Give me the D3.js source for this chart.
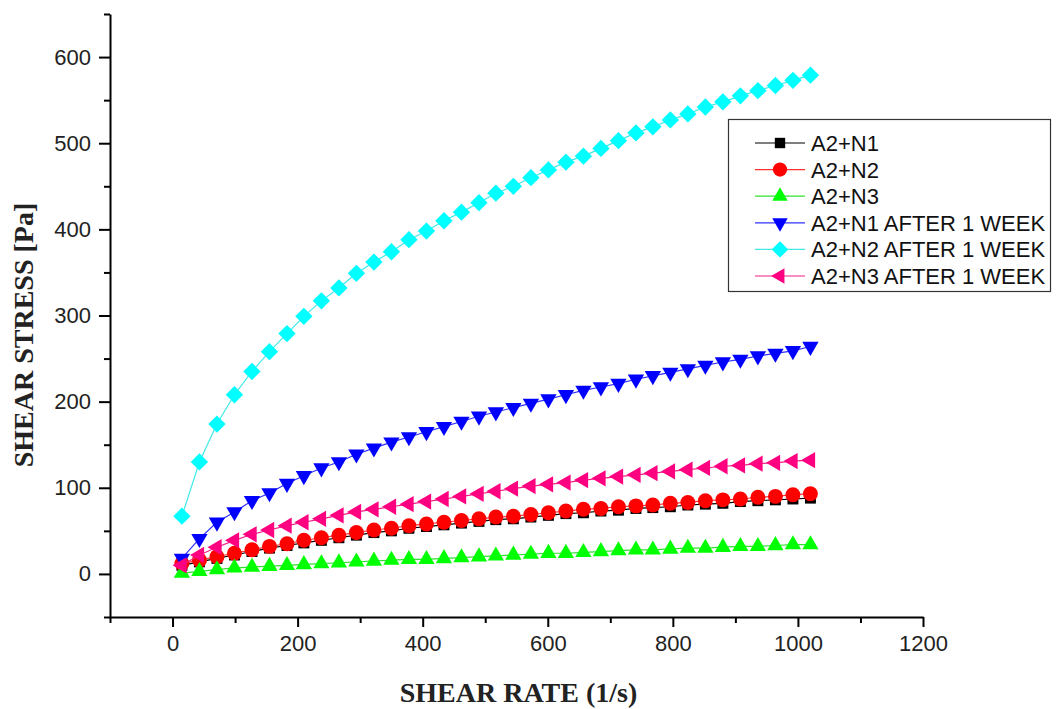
<!DOCTYPE html>
<html>
<head>
<meta charset="utf-8">
<script src="https://cdn.jsdelivr.net/npm/d3@7"></script>
<style>
  html, body { margin: 0; padding: 0; background: #fff; }
  svg { display: block; }
</style>
</head>
<body>
<svg id="chart" width="1056" height="709"></svg>
<script>
// ---- data ----
const shearRate = [15, 43, 71, 99, 127, 155, 183, 210, 238, 266, 294, 322, 350, 378, 406, 434, 462, 490, 517,
                   545, 573, 601, 629, 657, 685, 713, 741, 768, 796, 824, 852, 880, 908, 936, 964, 992, 1020];

const a2n1 = [10, 14, 18, 22, 26, 30, 33, 36, 39, 42, 45, 48, 50, 53, 55, 57, 59, 61, 63,
              64, 66, 68, 70, 71, 73, 74, 76, 77, 78, 80, 81, 82, 84, 85, 86, 87, 88];
const a2n2 = [12, 16, 20, 24, 28, 32, 35, 39, 42, 45, 48, 51, 53, 56, 58, 60, 62, 64, 66,
              67, 69, 71, 73, 75, 76, 78, 79, 80, 82, 83, 85, 86, 87, 89, 90, 92, 93];
const a2n3 = [1, 3, 5, 7, 8, 9, 10, 11, 12, 13, 14, 15, 16, 17, 17, 18, 19, 20, 21,
              22, 23, 24, 24, 25, 26, 27, 28, 28, 29, 30, 30, 31, 32, 32, 33, 34, 34];
const a2n1Week = [18, 41, 60, 72, 85, 94, 105, 114, 123, 130, 139, 146, 153, 159, 165, 171, 177, 183, 188,
                  193, 198, 203, 208, 213, 217, 221, 226, 230, 234, 238, 242, 246, 249, 253, 256, 259, 264];
const a2n2Week = [67, 130, 174, 208, 235, 258, 279, 299, 317, 332, 349, 362, 374, 388, 398, 410, 420, 431, 442,
                  450, 460, 469, 478, 485, 494, 503, 512, 519, 527, 534, 542, 548, 555, 561, 567, 573, 579];
const a2n3Week = [10, 22, 31, 39, 46, 51, 56, 60, 64, 68, 72, 75, 78, 81, 84, 87, 90, 93, 96,
                  99, 102, 104, 106, 109, 111, 113, 115, 117, 119, 121, 123, 125, 126, 128, 129, 131, 132];

const seriesNames = ["A2+N1", "A2+N2", "A2+N3", "A2+N1 AFTER 1 WEEK", "A2+N2 AFTER 1 WEEK", "A2+N3 AFTER 1 WEEK"];
const seriesValues = [a2n1, a2n2, a2n3, a2n1Week, a2n2Week, a2n3Week];

const xMajorTicks = [0, 200, 400, 600, 800, 1000, 1200];
const xMinorTicks = [-100, 100, 300, 500, 700, 900, 1100];
const yMajorTicks = [0, 100, 200, 300, 400, 500, 600];
const yMinorTicks = [-50, 50, 150, 250, 350, 450, 550, 650];

const xTitle = "SHEAR RATE (1/s)";
const yTitle = "SHEAR STRESS [Pa]";

// ---- styles ----
const colors = ["#000000", "#ff0000", "#00ff00", "#0000ff", "#00ffff", "#ff0080"];
const lineColors = ["#000000", "#ff3030", "#30e030", "#3030ff", "#40e8e8", "#f0208a"];
const shapes = [
  { type: d3.symbolSquare, size: 120, rot: 0 },
  { type: d3.symbolCircle, size: 175, rot: 0 },
  { type: d3.symbolTriangle, size: 115, rot: 0 },
  { type: d3.symbolTriangle, size: 115, rot: 180 },
  { type: d3.symbolSquare, size: 150, rot: 45 },
  { type: d3.symbolTriangle, size: 115, rot: -90 }
];

const svg = d3.select("#chart");
const x = d3.scaleLinear().domain([-100, 1200]).range([110, 923]);
const y = d3.scaleLinear().domain([-50, 650]).range([617, 14]);

const tickFont = "'Liberation Sans', Arial, sans-serif";
const titleFont = "'Liberation Serif', 'Times New Roman', serif";

// ---- axes ----
const gx = svg.append("g").attr("transform", `translate(0,${y(-50)})`);
gx.call(d3.axisBottom(x).tickValues(xMajorTicks).tickSize(10).tickPadding(8).tickSizeOuter(0).tickFormat(d3.format("d")));
const gxm = svg.append("g").attr("transform", `translate(0,${y(-50)})`);
gxm.call(d3.axisBottom(x).tickValues(xMinorTicks).tickSize(6).tickSizeOuter(0).tickFormat(""));
gxm.select(".domain").remove();

const gy = svg.append("g").attr("transform", `translate(${x(-100)},0)`);
gy.call(d3.axisLeft(y).tickValues(yMajorTicks).tickSize(11).tickPadding(8).tickSizeOuter(0).tickFormat(d3.format("d")));
const gym = svg.append("g").attr("transform", `translate(${x(-100)},0)`);
gym.call(d3.axisLeft(y).tickValues(yMinorTicks).tickSize(6).tickSizeOuter(0).tickFormat(""));
gym.select(".domain").remove();

svg.selectAll(".domain, .tick line").attr("stroke", "#000").attr("stroke-width", 2);
svg.selectAll(".tick text").attr("font-family", tickFont).attr("font-size", 22).attr("fill", "#222");

// axis titles
svg.append("text")
  .attr("x", (x(-100) + x(1200)) / 2 + 2)
  .attr("y", 702)
  .attr("text-anchor", "middle")
  .attr("font-family", titleFont)
  .attr("font-weight", "bold")
  .attr("font-size", 28)
  .attr("fill", "#222")
  .text(xTitle);

svg.append("text")
  .attr("transform", "translate(33,335) rotate(-90)")
  .attr("text-anchor", "middle")
  .attr("font-family", titleFont)
  .attr("font-weight", "bold")
  .attr("font-size", 28)
  .attr("fill", "#222")
  .text(yTitle);

// ---- series ----
const line = d3.line().x(d => x(d[0])).y(d => y(d[1]));
seriesValues.forEach((vals, i) => {
  const pts = shearRate.map((r, k) => [r, vals[k]]);
  const g = svg.append("g");
  g.append("path").datum(pts)
    .attr("d", line).attr("fill", "none")
    .attr("stroke", lineColors[i]).attr("stroke-width", 1.2);
  const sym = d3.symbol().type(shapes[i].type).size(shapes[i].size);
  g.selectAll("path.m").data(pts).join("path")
    .attr("class", "m")
    .attr("d", sym)
    .attr("transform", d => `translate(${x(d[0])},${y(d[1])}) rotate(${shapes[i].rot})`)
    .attr("fill", colors[i]);
});

// ---- legend ----
const lg = svg.append("g");
lg.append("rect").attr("x", 728.5).attr("y", 119.5).attr("width", 322).attr("height", 172)
  .attr("fill", "#fff").attr("stroke", "#333").attr("stroke-width", 1.2);
seriesNames.forEach((name, i) => {
  const yy = 143 + i * 26.6;
  lg.append("line").attr("x1", 755).attr("x2", 805).attr("y1", yy).attr("y2", yy)
    .attr("stroke", lineColors[i]).attr("stroke-width", 1.2);
  lg.append("path")
    .attr("d", d3.symbol().type(shapes[i].type).size(shapes[i].size * 0.9)())
    .attr("transform", `translate(780,${yy}) rotate(${shapes[i].rot})`)
    .attr("fill", colors[i]);
  lg.append("text").attr("x", 811).attr("y", yy).attr("dy", "0.36em")
    .attr("font-family", tickFont).attr("font-size", 22).attr("fill", "#111")
    .text(name);
});
</script>
</body>
</html>
